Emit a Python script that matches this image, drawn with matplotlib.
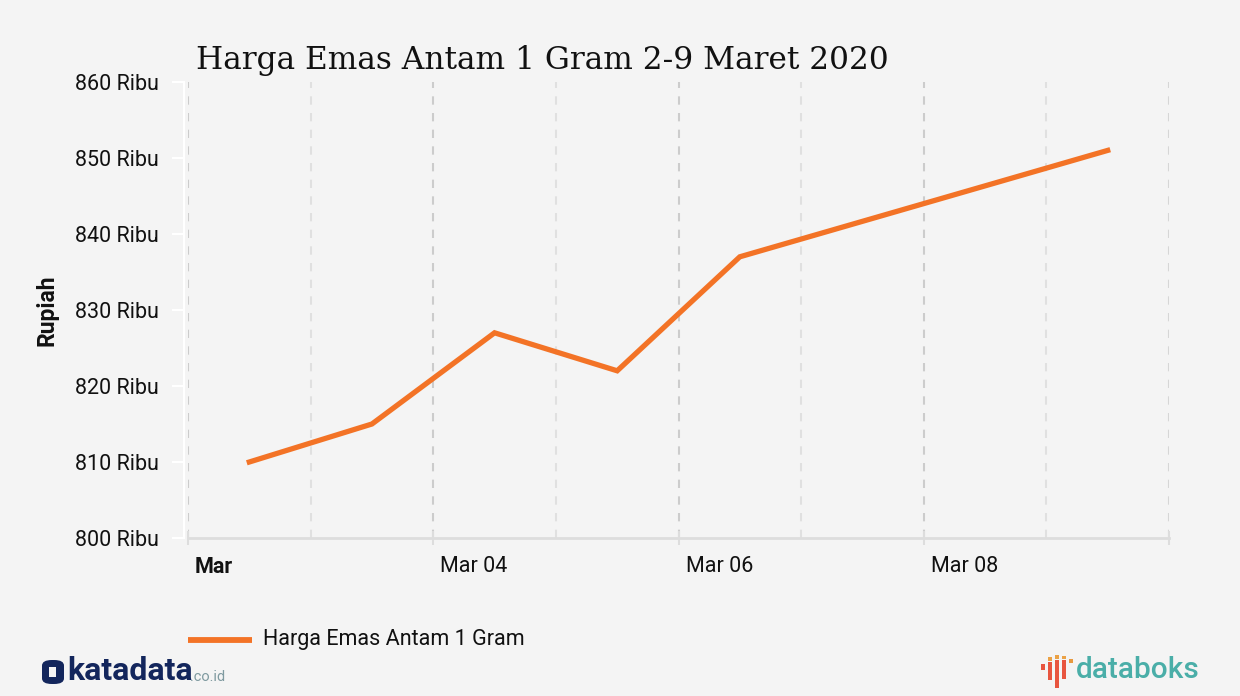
import matplotlib
matplotlib.use("Agg")
import matplotlib.pyplot as plt
from matplotlib.patches import Rectangle, FancyBboxPatch
from matplotlib.lines import Line2D
import matplotlib.transforms as mtrans
import pandas as pd

# ---- data ----
dates = ["2020-03-02 12:00", "2020-03-03 12:00", "2020-03-04 12:00",
         "2020-03-05 12:00", "2020-03-06 12:00", "2020-03-09 12:00"]
prices = [810, 815, 827, 822, 837, 851]  # ribu rupiah
series_name = "Harga Emas Antam 1 Gram"
title = "Harga Emas Antam 1 Gram 2-9 Maret 2020"
y_ticks = [800, 810, 820, 830, 840, 850, 860]
x_major = ["2020-03-02", "2020-03-04", "2020-03-06", "2020-03-08", "2020-03-10"]
x_major_labels = ["Mar", "Mar 04", "Mar 06", "Mar 08", ""]
x_minor = ["2020-03-03", "2020-03-05", "2020-03-07", "2020-03-09"]

BG = "#f4f4f4"
ORANGE = "#f37326"

plt.rcParams['font.family'] = ['Roboto', 'DejaVu Sans']

fig = plt.figure(figsize=(12.4, 6.96), dpi=100, facecolor=BG)
W, H = 1240, 696
ax = fig.add_axes([188 / W, (H - 538) / H, (1169 - 188) / W, (538 - 82) / H])
ax.set_facecolor(BG)

x = pd.to_datetime(dates)
ax.plot(x, prices, color=ORANGE, lw=3.8, solid_joinstyle='miter', zorder=3)

ax.set_xlim(pd.Timestamp("2020-03-02"), pd.Timestamp("2020-03-10"))
ax.set_ylim(800, 860)

# x ticks
ax.set_xticks(pd.to_datetime(x_major))
ax.set_xticklabels(x_major_labels, ha='left')
ax.set_xticks(pd.to_datetime(x_minor), minor=True)
ax.tick_params(axis='x', which='major', length=10, width=1.5, color="#dddddd",
               direction='inout', labelsize=15.5, pad=8, labelcolor="#111111")
ax.tick_params(axis='x', which='minor', length=0)
for lbl in ax.get_xticklabels():
    lbl.set_transform(lbl.get_transform() + mtrans.ScaledTranslation(7 / 100, 0, fig.dpi_scale_trans))
ax.get_xticklabels()[0].set_fontweight('bold')

# gridlines
ax.grid(False)
for d in x_major[:-1]:
    ax.axvline(pd.Timestamp(d), color="#cccccc", lw=1.5, ls=(0, (4, 4)), zorder=1)
for d in x_minor:
    ax.axvline(pd.Timestamp(d), color="#e0e0e0", lw=1.5, ls=(0, (4, 4)), zorder=1)
ax.axvline(pd.Timestamp("2020-03-10"), color="#d6d6d6", lw=1.5, ls=(0, (4, 4)), zorder=1)

# y ticks
ax.set_yticks(y_ticks)
ax.set_yticklabels([f"{v} Ribu" for v in y_ticks])
ax.tick_params(axis='y', length=9, width=1.5, color="white", labelsize=15.5,
               pad=9, labelcolor="#111111")
ax.set_ylabel("Rupiah", fontsize=16.5, fontweight='bold', labelpad=12, color="#111111")

for s in ['top', 'right']:
    ax.spines[s].set_visible(False)
ax.spines['left'].set_color("white")
ax.spines['left'].set_linewidth(1.5)
ax.spines['left'].set_position(('outward', 3))
ax.spines['bottom'].set_color("#dddddd")
ax.spines['bottom'].set_linewidth(2)

# title
fig.text(196 / W, 1 - 60 / H, title, fontsize=22.5, family=['DejaVu Serif'],
         ha='left', va='center', color="#111111")

# legend
fig.add_artist(Line2D([188 / W, 252 / W], [1 - 640 / H, 1 - 640 / H],
                      color=ORANGE, lw=4.2, solid_capstyle='butt',
                      transform=fig.transFigure))
fig.text(263 / W, 1 - 639 / H, series_name, fontsize=15.5, ha='left', va='center',
         color="#111111")

# katadata logo
NAVY = "#13265c"
fig.add_artist(FancyBboxPatch((42 / W, 1 - 684 / H), 22 / W, 24 / H,
                              boxstyle="round,pad=0,rounding_size=0.008",
                              transform=fig.transFigure, color=NAVY, lw=0))
fig.add_artist(Rectangle((49 / W, 1 - 677 / H), 7 / W, 10 / H,
                         transform=fig.transFigure, color=BG, lw=0))
fig.text(67 / W, 1 - 671 / H, "katadata", fontsize=23, fontweight='bold',
         color=NAVY, ha='left', va='center')
fig.text(190 / W, 1 - 677 / H, ".co.id", fontsize=10.5, color="#7f9aa0",
         ha='left', va='center')

# databoks logo
bars = [(1041, 664, 1045, 670, "#e8553f"), (1048, 662, 1052, 680, "#e8553f"),
        (1055, 660, 1059, 688, "#e8553f"), (1062, 660, 1066, 679, "#e8553f"),
        (1069, 659, 1073, 663, "#e8993f"), (1048, 657, 1052, 661, "#eba246"),
        (1055, 655, 1059, 659, "#eba246"), (1062, 656, 1066, 659, "#eba246")]
for x0, y0, x1, y1, c in bars:
    fig.add_artist(Rectangle((x0 / W, 1 - y1 / H), (x1 - x0) / W, (y1 - y0) / H,
                             transform=fig.transFigure, color=c, lw=0))
fig.text(1076 / W, 1 - 670 / H, "databoks", fontsize=21.5, fontweight='medium',
         color="#4aaea8", ha='left', va='center')

fig.savefig("out.png", dpi=100, facecolor=BG)
